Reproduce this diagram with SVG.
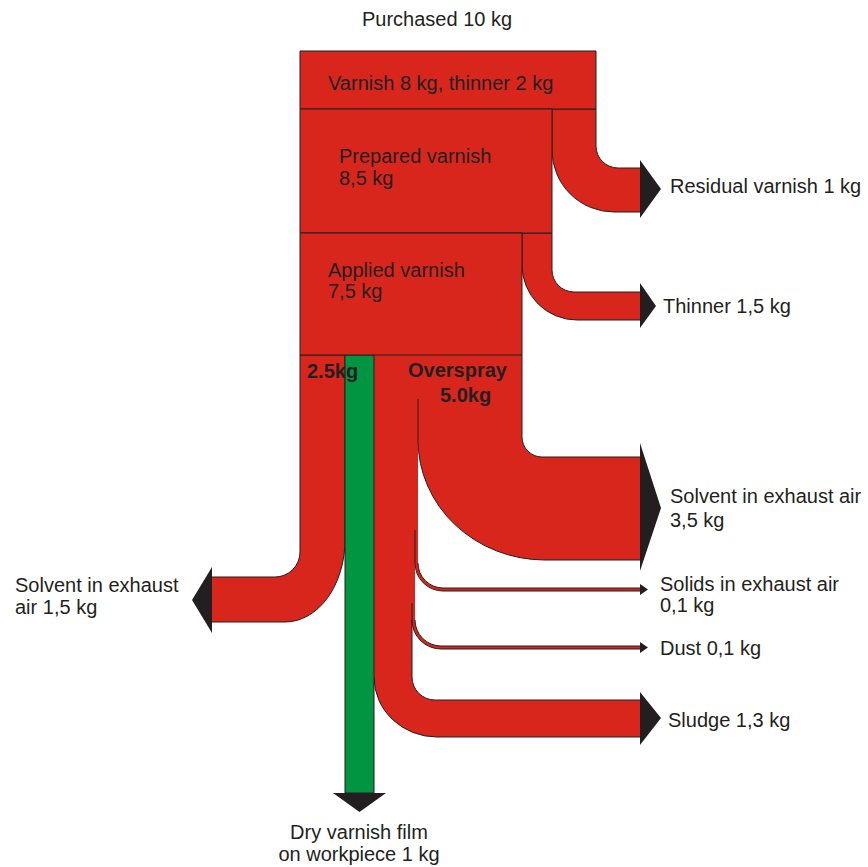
<svg xmlns="http://www.w3.org/2000/svg" width="868" height="867" viewBox="0 0 868 867">
<style>
.f{fill:#D9261C;stroke:#231F20;stroke-width:1;stroke-linejoin:round}
.fn{fill:#D9261C;stroke:none}
.ln{fill:none;stroke:#231F20;stroke-width:1}
.g{fill:#009540;stroke:#231F20;stroke-width:1}
.ah{fill:#231F20;stroke:none}
text{font-family:"Liberation Sans",Arial,sans-serif;font-size:20px;fill:#231F20}
.b{font-weight:bold}
.m{text-anchor:middle}
</style>
<rect width="868" height="867" fill="#fff"/>
<g id="connectors">
  <g id="flow-residual">
    <path class="f" d="M552,109 L596,109 L596,146 A22,22 0 0 0 618,168 L641,168 L641,212 L614,212 A62,62 0 0 1 552,150 Z"/>
    <polygon class="ah" points="640,160 640,218 661,189"/>
  </g>
  <g id="flow-thinner">
    <path class="f" d="M522,233 L552,233 L552,270 A22,22 0 0 0 574,292 L641,292 L641,320 L577,320 A55,55 0 0 1 522,265 Z"/>
    <polygon class="ah" points="640,283 640,328 656,306"/>
  </g>
  <g id="flow-solvent-left">
    <path class="f" d="M300,355 L345,355 L345,540 A60,82 0 0 1 285,622 L211,622 L211,577 L275,577 A25,25 0 0 0 300,552 Z"/>
    <polygon class="ah" points="212,567 212,633 192,600"/>
  </g>
  <g id="flow-overspray">
    <path class="fn" d="M374,355 L522,355 L522,437 A20,20 0 0 0 542,457 L641,457 L641,560 L545,560 A127,120 0 0 1 418,440 L418,563 L415,563 L415,603 L412,603 L412,677 A23,23 0 0 0 435,700 L641,700 L641,737 L437,737 A63,60 0 0 1 374,677 Z"/>
    <path class="fn" d="M415,563 A28,28 0 0 0 443,591 L641,591 L641,588 L443,588 A25,25 0 0 1 418,563 Z"/>
    <path class="fn" d="M412,603 L412,620 A29,29 0 0 0 441,649 L641,649 L641,646 L441,646 A26,26 0 0 1 415,620 L415,603 Z"/>
    <path class="ln" d="M522,355 L522,437 A20,20 0 0 0 542,457 L641,457"/>
    <path class="ln" d="M418,399 L418,440 A127,120 0 0 0 545,560 L641,560"/>
    <path class="ln" d="M415,530 L415,563 A28,28 0 0 0 443,591 L641,591"/>
    <path class="ln" d="M418,563 A25,25 0 0 0 443,588 L641,588"/>
    <path class="ln" d="M412,603 L412,620 A29,29 0 0 0 441,649 L641,649"/>
    <path class="ln" d="M415,620 A26,26 0 0 0 441,646 L641,646"/>
    <path class="ln" d="M412,620 L412,677 A23,23 0 0 0 435,700 L641,700"/>
    <path class="ln" d="M374,677 A63,60 0 0 0 437,737 L641,737"/>
    <polygon class="ah" points="640,443 640,571 661,508"/>
    <polygon class="ah" points="640,584 640,595 648,589.5"/>
    <polygon class="ah" points="640,642 640,653 648,647.5"/>
    <polygon class="ah" points="640,692 640,745 661,718"/>
  </g>
  <g id="flow-film">
    <rect class="g" x="345" y="355" width="29" height="438"/>
    <polygon class="ah" points="333,793 386,793 359.5,812"/>
  </g>
</g>
<g id="node-purchased">
  <text x="362" y="26">Purchased 10 kg</text>
  <rect class="f" x="300" y="51" width="296" height="58"/>
  <text x="328" y="90">Varnish 8 kg, thinner 2 kg</text>
</g>
<g id="node-prepared">
  <rect class="f" x="300" y="109" width="252" height="124"/>
  <text x="339" y="163">Prepared varnish</text>
  <text x="339" y="185">8,5 kg</text>
</g>
<g id="node-applied">
  <rect class="f" x="300" y="233" width="222" height="122"/>
  <text x="328" y="277">Applied varnish</text>
  <text x="328" y="298">7,5 kg</text>
</g>
<g id="label-split">
  <text class="b" x="307" y="378">2.5kg</text>
  <text class="b" x="408" y="377">Overspray</text>
  <text class="b" x="440" y="402">5.0kg</text>
</g>
<g id="out-residual"><text x="670" y="193">Residual varnish 1 kg</text></g>
<g id="out-thinner"><text x="663" y="313">Thinner 1,5 kg</text></g>
<g id="out-solvent-exhaust">
  <text x="670" y="503">Solvent in exhaust air</text>
  <text x="670" y="527">3,5 kg</text>
</g>
<g id="out-solids">
  <text x="660" y="591">Solids in exhaust air</text>
  <text x="660" y="612">0,1 kg</text>
</g>
<g id="out-dust"><text x="660" y="655">Dust 0,1 kg</text></g>
<g id="out-sludge"><text x="668" y="727">Sludge 1,3 kg</text></g>
<g id="out-solvent-left">
  <text x="15" y="592">Solvent in exhaust</text>
  <text x="15" y="614">air 1,5 kg</text>
</g>
<g id="out-film">
  <text class="m" x="359" y="839">Dry varnish film</text>
  <text class="m" x="359" y="861">on workpiece 1 kg</text>
</g>
</svg>
